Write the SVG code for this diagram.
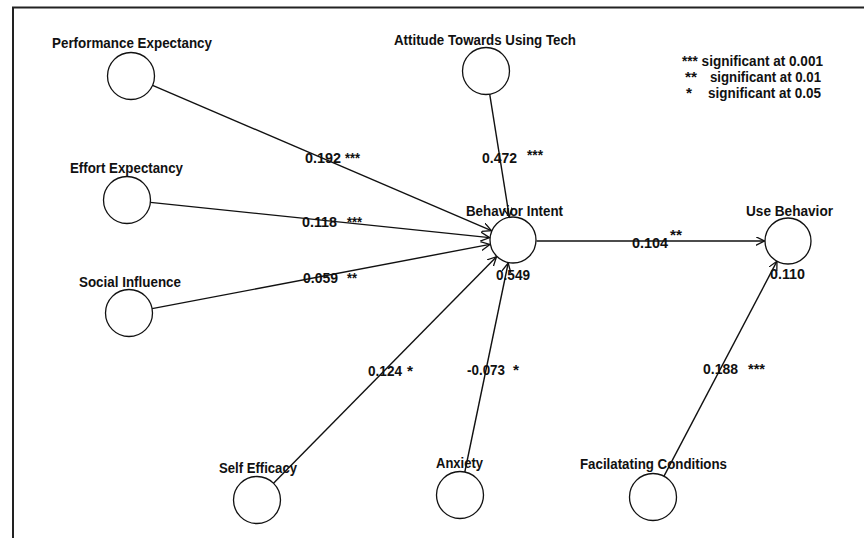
<svg xmlns="http://www.w3.org/2000/svg" width="864" height="540" viewBox="0 0 864 540">
<defs>
<style>
text{font-family:"Liberation Sans",Arial,sans-serif;font-weight:bold;font-size:14px;fill:#111}
.n{fill:#fff;stroke:#111;stroke-width:1.3}
.e{stroke:#111;stroke-width:1.4;fill:none;marker-end:url(#arr)}
.f{stroke:#222;stroke-width:2;fill:none}
</style>
<marker id="arr" markerUnits="userSpaceOnUse" markerWidth="12" markerHeight="12" refX="9" refY="4.5" orient="auto">
<path d="M0,0 L9,4.5 L0,9" fill="none" stroke="#111" stroke-width="1.3"/>
</marker>
</defs>
<rect width="864" height="540" fill="#fff"/>
<path class="f" d="M13,538 V7.5 H864"/>
<g id="connectors">
<line class="e" x1="152.6" y1="85.3" x2="491.4" y2="230.7"/>
<line class="e" x1="150.4" y1="202.4" x2="489.6" y2="237.6"/>
<line class="e" x1="152.1" y1="308.6" x2="489.9" y2="244.4"/>
<line class="e" x1="489.7" y1="94.2" x2="509.3" y2="216.8"/>
<line class="e" x1="273.5" y1="483.3" x2="496.5" y2="256.7"/>
<line class="e" x1="464.8" y1="472" x2="508.2" y2="263"/>
<line class="e" x1="536.5" y1="241" x2="764.5" y2="241"/>
<line class="e" x1="664" y1="476.2" x2="777" y2="261.2"/>
<text x="305" y="163" textLength="36" lengthAdjust="spacingAndGlyphs">0.192</text>
<text x="345" y="163" textLength="15" lengthAdjust="spacingAndGlyphs">***</text>
<text x="482" y="163" textLength="35" lengthAdjust="spacingAndGlyphs">0.472</text>
<text x="527" y="160" textLength="16" lengthAdjust="spacingAndGlyphs">***</text>
<text x="302" y="227" textLength="35" lengthAdjust="spacingAndGlyphs">0.118</text>
<text x="347" y="227" textLength="15" lengthAdjust="spacingAndGlyphs">***</text>
<text x="303" y="283" textLength="35" lengthAdjust="spacingAndGlyphs">0.059</text>
<text x="347" y="283" textLength="10" lengthAdjust="spacingAndGlyphs">**</text>
<text x="368" y="376" textLength="34" lengthAdjust="spacingAndGlyphs">0.124</text>
<text x="407" y="376" textLength="6" lengthAdjust="spacingAndGlyphs">*</text>
<text x="467" y="375" textLength="38" lengthAdjust="spacingAndGlyphs">-0.073</text>
<text x="513" y="375" textLength="6" lengthAdjust="spacingAndGlyphs">*</text>
<text x="632" y="248" textLength="36" lengthAdjust="spacingAndGlyphs">0.104</text>
<text x="670" y="240" textLength="12" lengthAdjust="spacingAndGlyphs">**</text>
<text x="703" y="374" textLength="35" lengthAdjust="spacingAndGlyphs">0.188</text>
<text x="748" y="374" textLength="17" lengthAdjust="spacingAndGlyphs">***</text>
</g>
<g id="performance-expectancy">
<circle class="n" cx="131" cy="76" r="23.5"/>
<text x="52" y="48" textLength="160" lengthAdjust="spacingAndGlyphs">Performance Expectancy</text>
</g>
<g id="effort-expectancy">
<circle class="n" cx="127" cy="200" r="23.5"/>
<text x="70" y="173" textLength="113" lengthAdjust="spacingAndGlyphs">Effort Expectancy</text>
</g>
<g id="social-influence">
<circle class="n" cx="129" cy="313" r="23.5"/>
<text x="79" y="287" textLength="102" lengthAdjust="spacingAndGlyphs">Social Influence</text>
</g>
<g id="attitude">
<circle class="n" cx="486" cy="71" r="23.5"/>
<text x="394" y="45" textLength="182" lengthAdjust="spacingAndGlyphs">Attitude Towards Using Tech</text>
</g>
<g id="behavior-intent">
<circle class="n" cx="513" cy="240" r="23"/>
<text x="466" y="216" textLength="97" lengthAdjust="spacingAndGlyphs">Behavior Intent</text>
<text x="496" y="280" textLength="34" lengthAdjust="spacingAndGlyphs">0.549</text>
</g>
<g id="use-behavior">
<circle class="n" cx="788" cy="241" r="23"/>
<text x="746" y="216" textLength="87" lengthAdjust="spacingAndGlyphs">Use Behavior</text>
<text x="770" y="279" textLength="35" lengthAdjust="spacingAndGlyphs">0.110</text>
</g>
<g id="self-efficacy">
<circle class="n" cx="257" cy="500" r="23.5"/>
<text x="219" y="473" textLength="78" lengthAdjust="spacingAndGlyphs">Self Efficacy</text>
</g>
<g id="anxiety">
<circle class="n" cx="460" cy="495" r="23.5"/>
<text x="436" y="468" textLength="47" lengthAdjust="spacingAndGlyphs">Anxiety</text>
</g>
<g id="facilitating-conditions">
<circle class="n" cx="653" cy="497" r="23.5"/>
<text x="580" y="469" textLength="147" lengthAdjust="spacingAndGlyphs">Facilatating Conditions</text>
</g>
<g id="legend">
<text x="682" y="66" textLength="141" lengthAdjust="spacingAndGlyphs">*** significant at 0.001</text>
<text x="685" y="82" textLength="12" lengthAdjust="spacingAndGlyphs">**</text>
<text x="710" y="82" textLength="111" lengthAdjust="spacingAndGlyphs">significant at 0.01</text>
<text x="686" y="98" textLength="6" lengthAdjust="spacingAndGlyphs">*</text>
<text x="708" y="98" textLength="113" lengthAdjust="spacingAndGlyphs">significant at 0.05</text>
</g>
</svg>
